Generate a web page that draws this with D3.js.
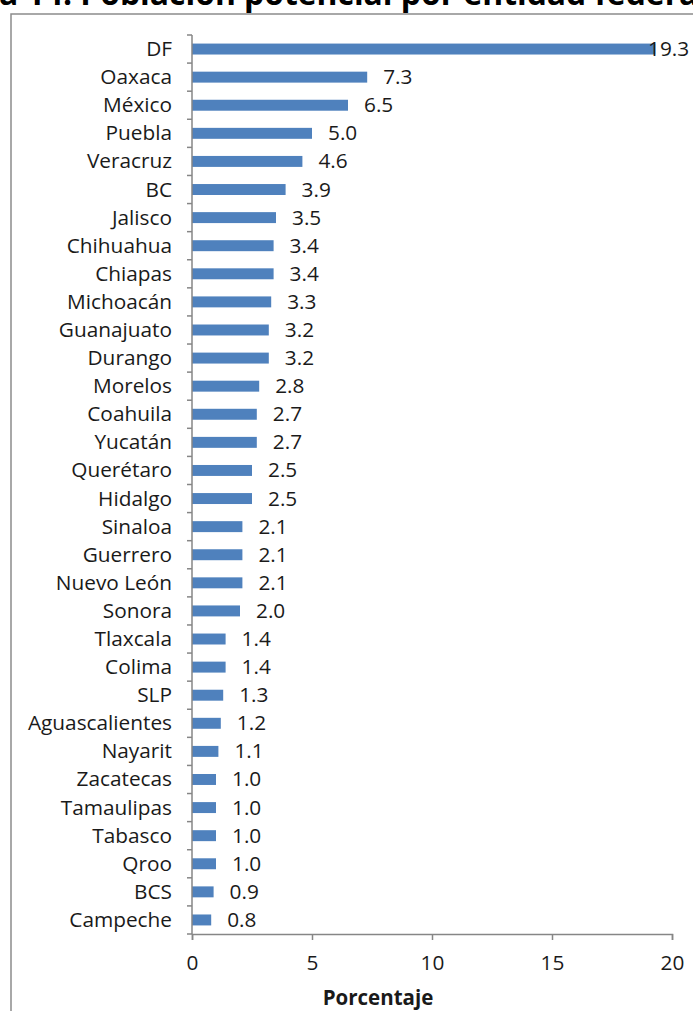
<!DOCTYPE html>
<html>
<head>
<meta charset="utf-8">
<script src="https://cdn.jsdelivr.net/npm/d3@7/dist/d3.min.js"></script>
<style>
  html, body { margin: 0; padding: 0; background: #fff; }
  svg { display: block; }
</style>
</head>
<body>
<svg id="chart" width="693" height="1011"></svg>
<script>
const titleText = "Gráfica 14. Población potencial por entidad federativa";
const axisTitle = "Porcentaje";
const categories = ["DF","Oaxaca","México","Puebla","Veracruz","BC","Jalisco","Chihuahua","Chiapas","Michoacán","Guanajuato","Durango","Morelos","Coahuila","Yucatán","Querétaro","Hidalgo","Sinaloa","Guerrero","Nuevo León","Sonora","Tlaxcala","Colima","SLP","Aguascalientes","Nayarit","Zacatecas","Tamaulipas","Tabasco","Qroo","BCS","Campeche"];
const values = [19.3,7.3,6.5,5.0,4.6,3.9,3.5,3.4,3.4,3.3,3.2,3.2,2.8,2.7,2.7,2.5,2.5,2.1,2.1,2.1,2.0,1.4,1.4,1.3,1.2,1.1,1.0,1.0,1.0,1.0,0.9,0.8];
const xTicks = [0,5,10,15,20];

const svg = d3.select("#chart");
const font = "'Open Sans', sans-serif";
const textColor = "#1a1a1a";
const axisColor = "#868686";

// chart border (frame partially visible)
svg.append("path")
  .attr("d", "M11,1011 L11,14 L693,14")
  .attr("fill", "none")
  .attr("stroke", "#8c8c8c")
  .attr("stroke-width", 1.5);

// title (clipped at the top, as in the source image)
const t = svg.append("text")
  .attr("font-family", font)
  .attr("font-weight", "bold")
  .attr("fill", "#000")
  .attr("y", 5);
t.attr("font-size", 20).text("Población potencial por ");
const w1 = t.node().getComputedTextLength();
const fs = 20 * (447 - 72) / w1;
t.attr("font-size", fs).text("Gráfica 14. ");
const pre = t.node().getComputedTextLength();
t.text(titleText).attr("x", 72 - pre);

const x = d3.scaleLinear().domain([0, 20]).range([192, 672]);
const y = d3.scaleBand().domain(categories).range([35, 934]).padding(0);
const barH = y.bandwidth() * 0.39;

// bars
svg.append("g").selectAll("rect")
  .data(categories)
  .join("rect")
  .attr("x", x(0))
  .attr("y", (d) => y(d) + (y.bandwidth() - barH) / 2)
  .attr("width", (d, i) => x(values[i]) - x(0))
  .attr("height", barH)
  .attr("fill", "#4F81BD");

// y axis line + ticks at band boundaries
const yAxisG = svg.append("g");
yAxisG.append("line")
  .attr("x1", x(0)).attr("x2", x(0))
  .attr("y1", 35).attr("y2", 934)
  .attr("stroke", axisColor).attr("stroke-width", 1.5);
const bounds = categories.map(c => y(c)).concat([934]);
yAxisG.selectAll("line.tk").data(bounds).join("line")
  .attr("class", "tk")
  .attr("x1", x(0) - 5).attr("x2", x(0))
  .attr("y1", d => d).attr("y2", d => d)
  .attr("stroke", axisColor).attr("stroke-width", 1.5);

// category labels
svg.append("g").selectAll("text")
  .data(categories)
  .join("text")
  .attr("x", 172)
  .attr("y", d => y(d) + y.bandwidth() / 2 + 7)
  .attr("text-anchor", "end")
  .attr("font-family", font)
  .attr("font-size", 20.8)
  .attr("fill", textColor)
  .text(d => d);

// x axis
const xAxis = d3.axisBottom(x).tickValues(xTicks).tickSize(6).tickPadding(10).tickFormat(d3.format("d"));
const xg = svg.append("g").attr("transform", "translate(0,934)").call(xAxis);
xg.select(".domain").attr("stroke", axisColor).attr("stroke-width", 1.5);
xg.selectAll(".tick line").attr("stroke", axisColor).attr("stroke-width", 1.5);
xg.selectAll(".tick text")
  .attr("font-family", font)
  .attr("font-size", 20.8)
  .attr("fill", textColor)
  .attr("dy", "0.95em");

// value labels
const fmt = d3.format(".1f");
svg.append("g").selectAll("text")
  .data(values)
  .join("text")
  .attr("x", d => Math.min(x(d) + 16, 648))
  .attr("y", (d, i) => y(categories[i]) + y.bandwidth() / 2 + 7)
  .attr("font-family", font)
  .attr("font-size", 20.8)
  .attr("fill", textColor)
  .text(d => fmt(d));

// axis title
svg.append("text")
  .attr("x", 378)
  .attr("y", 1005)
  .attr("text-anchor", "middle")
  .attr("font-family", font)
  .attr("font-weight", "bold")
  .attr("font-size", 20.5)
  .attr("fill", textColor)
  .text(axisTitle);
</script>
</body>
</html>
